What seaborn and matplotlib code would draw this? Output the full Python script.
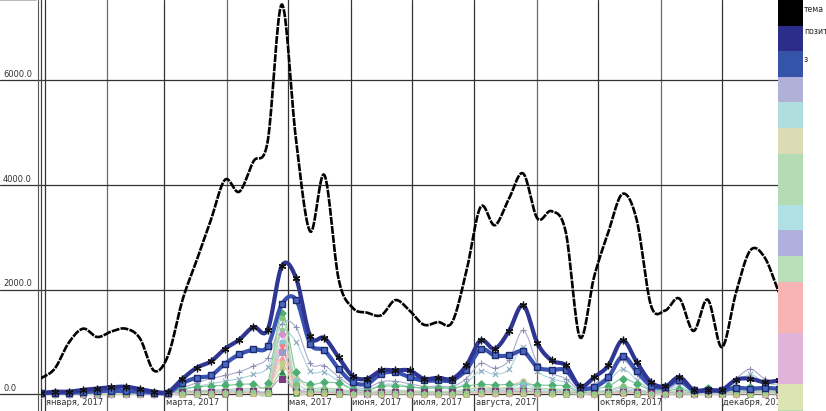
import numpy as np
import pandas as pd
import matplotlib
matplotlib.use("Agg")
import matplotlib.pyplot as plt
import matplotlib.dates as mdates
import matplotlib.transforms as mtransforms
from matplotlib.patches import Rectangle
import seaborn as sns

# ---------------- data ----------------
dates = pd.date_range("2016-12-30", periods=53, freq="7D")

tema = [300, 490, 990, 1254, 1095, 1200, 1254, 1070, 450, 750,
        1800, 2560, 3330, 4100, 3870, 4450, 4830, 7450, 4860, 3110,
        4190, 2200, 1650, 1560, 1510, 1800, 1600, 1330, 1380, 1380,
        2350, 3580, 3230, 3740, 4220, 3360, 3500, 3100, 1090, 2250,
        3100, 3830, 3330, 1700, 1600, 1830, 1210, 1810, 900, 1950,
        2750, 2620, 1955]

pozitiv = [25, 50, 50, 85, 110, 135, 145, 100, 50, 50,
           297, 507, 628, 870, 1043, 1284, 1234, 2452, 2222, 1106,
           1074, 704, 345, 297, 455, 455, 455, 297, 316, 297,
           551, 1030, 870, 1208, 1700, 978, 647, 551, 150, 327,
           551, 1030, 614, 232, 150, 327, 86, 86, 86, 278,
           297, 232, 264]

z_series = [20, 30, 30, 40, 60, 70, 60, 50, 30, 30,
            212, 316, 360, 584, 762, 857, 915, 1718, 1808, 966,
            838, 488, 232, 200, 392, 423, 327, 264, 264, 270,
            469, 857, 743, 743, 819, 519, 469, 455, 136, 136,
            327, 723, 442, 168, 136, 264, 73, 73, 73, 124,
            105, 124, 105]

s01 = [10, 15, 20, 25, 35, 45, 45, 35, 20, 15, 120, 220, 300, 360, 430, 540, 700,
       1350, 1280, 590, 550, 330, 150, 120, 240, 250, 200, 150, 160, 150,
       300, 590, 500, 650, 1220, 600, 400, 300, 80, 200, 350, 650, 380, 120, 80, 200,
       50, 50, 50, 300, 480, 300, 250]
s02 = [5, 10, 10, 15, 20, 30, 30, 25, 10, 10, 80, 150, 200, 250, 300, 380, 520,
       1200, 1000, 450, 420, 250, 100, 80, 180, 190, 150, 110, 120, 110,
       220, 450, 380, 480, 900, 450, 300, 220, 50, 150, 260, 480, 280, 90, 60, 150,
       30, 30, 30, 200, 380, 220, 180]
s03 = [5, 5, 5, 10, 10, 15, 15, 10, 5, 5, 40, 60, 80, 90, 100, 120, 150,
       500, 300, 120, 110, 80, 40, 30, 60, 60, 50, 40, 40, 40,
       80, 150, 120, 140, 250, 130, 100, 80, 20, 50, 80, 150, 90, 30, 20, 50,
       15, 15, 15, 80, 120, 80, 60]
s04 = [10, 10, 15, 20, 25, 30, 30, 25, 15, 10, 100, 140, 160, 170, 190, 200, 220,
       1550, 420, 200, 230, 210, 100, 80, 150, 160, 140, 120, 130, 120,
       160, 190, 180, 190, 200, 180, 170, 160, 40, 100, 150, 300, 200, 80, 60, 100,
       40, 130, 40, 100, 140, 120, 110]
s05 = [5, 5, 5, 5, 5, 5, 5, 5, 5, 5, 10, 15, 15, 15, 20, 20, 20,
       420, 30, 20, 20, 15, 10, 10, 10, 10, 10, 10, 10, 10,
       15, 20, 20, 20, 20, 20, 20, 15, 5, 10, 10, 20, 15, 10, 5, 10,
       5, 5, 5, 10, 10, 10, 10]
s06 = [5, 5, 5, 5, 10, 10, 10, 5, 5, 5, 30, 50, 60, 70, 80, 90, 110,
       1000, 250, 90, 90, 60, 30, 20, 40, 40, 35, 30, 30, 30,
       60, 100, 90, 110, 200, 100, 80, 60, 15, 40, 60, 120, 70, 25, 15, 40,
       10, 10, 10, 60, 90, 60, 50]
s07 = [5, 5, 5, 5, 5, 5, 5, 5, 5, 5, 20, 30, 40, 40, 50, 60, 70,
       800, 150, 60, 60, 40, 20, 15, 30, 30, 25, 20, 20, 20,
       40, 70, 60, 70, 130, 70, 50, 40, 10, 30, 40, 80, 50, 20, 10, 30,
       10, 10, 10, 40, 60, 40, 30]
s08 = [10, 10, 10, 10, 10, 10, 10, 10, 10, 10, 60, 70, 80, 90, 100, 110, 120,
       1450, 200, 120, 120, 100, 60, 50, 80, 80, 70, 60, 60, 60,
       100, 110, 110, 110, 120, 110, 100, 90, 30, 60, 80, 150, 100, 50, 40, 60,
       30, 30, 30, 60, 80, 60, 60]
s09 = [5, 5, 5, 5, 5, 5, 5, 5, 5, 5, 20, 30, 30, 40, 40, 50, 60,
       900, 100, 50, 50, 30, 15, 10, 20, 20, 20, 15, 15, 15,
       30, 40, 40, 40, 60, 40, 30, 30, 10, 20, 30, 50, 30, 10, 10, 20,
       10, 10, 10, 20, 30, 20, 20]
s10 = [3, 3, 3, 3, 3, 3, 3, 3, 3, 3, 15, 20, 20, 25, 25, 30, 35,
       700, 60, 30, 30, 20, 10, 8, 15, 15, 12, 10, 10, 10,
       20, 25, 25, 25, 35, 25, 20, 20, 5, 15, 20, 30, 20, 8, 5, 15,
       5, 5, 5, 15, 20, 15, 15]
s11 = [5, 5, 5, 5, 5, 5, 5, 5, 5, 5, 20, 25, 30, 30, 35, 40, 50,
       1150, 80, 40, 40, 30, 15, 10, 20, 20, 15, 12, 12, 12,
       25, 30, 30, 30, 45, 30, 25, 25, 8, 15, 25, 40, 25, 10, 8, 15,
       8, 8, 8, 15, 25, 15, 15]
s12 = [20, 20, 20, 20, 25, 25, 25, 20, 20, 20, 40, 45, 50, 50, 55, 55, 60,
       300, 70, 50, 50, 45, 35, 30, 40, 40, 40, 35, 35, 35,
       50, 60, 60, 60, 60, 50, 45, 45, 25, 35, 40, 50, 40, 30, 25, 30,
       25, 25, 25, 35, 40, 35, 35]
s13 = [3, 3, 3, 3, 3, 3, 3, 3, 3, 3, 10, 15, 15, 20, 20, 25, 25,
       600, 40, 20, 20, 15, 8, 5, 10, 10, 10, 8, 8, 8,
       15, 20, 20, 20, 25, 20, 15, 15, 5, 10, 15, 25, 15, 5, 5, 10,
       5, 5, 5, 10, 15, 10, 10]
s14 = [5, 5, 5, 5, 5, 5, 5, 5, 5, 5, 25, 35, 40, 45, 50, 55, 60,
       1250, 120, 60, 60, 45, 25, 20, 35, 35, 30, 25, 25, 25,
       45, 60, 55, 60, 90, 55, 45, 40, 12, 30, 40, 70, 45, 18, 12, 30,
       12, 12, 12, 35, 50, 35, 30]

y_ticks = [0, 2000, 4000, 6000]
y_tick_labels = ["0.0", "2000.0", "4000.0", "6000.0"]
month_starts = pd.date_range("2017-01-01", periods=12, freq="MS")
month_labels = {0: "января, 2017", 2: "марта, 2017", 4: "мая, 2017",
                5: "июня, 2017", 6: "июля, 2017", 7: "августа, 2017",
                9: "октября, 2017", 11: "декабря, 2017"}
legend_labels = ["тема", "позит", "з"]

# light series styling: (values, line colour, marker, marker colour)
light = [
    (s01, "#aaaacc", "+", "#8c8cb0"),
    (s02, "#a8d4da", "x", "#8aa8c0"),
    (s03, "#d8d6ae", "o", "#c8c490"),
    (s04, "#7cc496", "D", "#4cae72"),
    (s05, "#9ad0a0", "^", "#2e8b4a"),
    (s06, "#a8dce4", "o", "#84c8d4"),
    (s07, "#b4b4dc", "s", "#9a9acc"),
    (s08, "#b0dcb0", "p", "#7cc47c"),
    (s09, "#f4b0b0", "v", "#f08080"),
    (s10, "#f6b8b8", "^", "#f49a9a"),
    (s11, "#e0b0d8", "D", "#d690cc"),
    (s12, "#c8a0c8", "s", "#7a3a80"),
    (s13, "#d8e2b0", "o", "#c0d080"),
    (s14, "#b4dcb4", "*", "#90cc90"),
]
legend_colors = ["#000000", "#2c2c8a", "#3553a8", "#b0b0d8", "#b0dede",
                 "#dcdcb4", "#b4dcb4", "#b4dcb4", "#b0e0e4", "#b0b0dc",
                 "#b8e0b8", "#f8b4b4", "#f8b4b4", "#e0b4d8", "#e0b4d8",
                 "#dce4b4", "#b4dcb4"]

# ---------------- helpers ----------------
def smooth(xv, yv, n=16):
    x = np.asarray(xv, float)
    y = np.asarray(yv, float)
    xp = np.concatenate([[2 * x[0] - x[1]], x, [2 * x[-1] - x[-2]]])
    yp = np.concatenate([[2 * y[0] - y[1]], y, [2 * y[-1] - y[-2]]])
    t = np.linspace(0, 1, n, endpoint=False)[:, None]

    def cr(p):
        p0, p1, p2, p3 = p[:-3], p[1:-2], p[2:-1], p[3:]
        return 0.5 * (2 * p1 + (-p0 + p2) * t + (2 * p0 - 5 * p1 + 4 * p2 - p3) * t ** 2
                      + (-p0 + 3 * p1 - 3 * p2 + p3) * t ** 3)

    X = np.append(cr(xp).T.ravel(), x[-1])
    Y = np.append(cr(yp).T.ravel(), y[-1])
    return X, Y

# ---------------- figure ----------------
sns.set_theme(style="white")
plt.rcParams["font.family"] = ["DejaVu Sans"]

W, H = 826, 411
fig = plt.figure(figsize=(W / 100, H / 100), dpi=100)
left_px, right_px = 40.5, 778.7
ax = fig.add_axes([left_px / W, 0, (right_px - left_px) / W, 1])
ax.set_facecolor("white")

xnum = mdates.date2num(dates)
ax.set_xlim(xnum[0], xnum[-1])
ax.set_ylim(-319, 7534)
ax.set_xticks([])
ax.set_yticks([])
for s in ["top", "bottom"]:
    ax.spines[s].set_visible(False)
for s in ["left", "right"]:
    ax.spines[s].set_color("#444444")
    ax.spines[s].set_linewidth(0.9)

# grid
for k, m in enumerate(month_starts):
    c = "#333333" if k in month_labels else "#6a6a6a"
    ax.axvline(mdates.date2num(m), color=c, lw=0.9, zorder=0.5)
tr_h = mtransforms.blended_transform_factory(fig.transFigure, ax.transData)
tr_lab = mtransforms.offset_copy(tr_h, fig=fig, x=0, y=1.2, units="dots")
for v, lab in zip(y_ticks, y_tick_labels):
    ax.axhline(v, color="#333333", lw=0.9, zorder=0.5)
    ax.plot([0, left_px / W], [v, v], color="#333333", lw=0.9,
            transform=tr_h, clip_on=False)
    fig.text(3 / W, v, lab, fontsize=6, color="#333333", ha="left", va="bottom",
             transform=tr_lab)
ax.plot([0, 36 / W], [7534, 7534], color="#aaaaaa", lw=1.2, transform=tr_h, clip_on=False)
fig.add_artist(plt.Line2D([38.3 / W, 38.3 / W], [0, 1], color="#555555", lw=0.8,
                          transform=fig.transFigure))

# month labels
lab_tr = mtransforms.offset_copy(ax.transData, fig=fig, x=1.5, y=0, units="dots")
for k, txt in month_labels.items():
    ax.text(mdates.date2num(month_starts[k]), -150, txt, fontsize=6, color="#333333",
            ha="left", va="center", transform=lab_tr, clip_on=True)

# light series
for vals, lc, mk, mc in light:
    X, Y = smooth(xnum, vals)
    ax.plot(X, Y, color=lc, lw=0.8, zorder=2)
    sns.scatterplot(x=xnum, y=vals, ax=ax, marker=mk, s=14, color=mc,
                    edgecolor=mc if mk not in ["+", "x"] else None,
                    linewidth=0.8, zorder=3, legend=False)

# blue squares series
X, Y = smooth(xnum, z_series)
ax.plot(X, Y, color="#3a52b2", lw=3.0, zorder=4, solid_capstyle="round")
ax.plot(xnum, z_series, ls="none", marker="s", ms=5, mfc="#4a68c2",
        mec="#1c2a6e", mew=1.0, zorder=5)

# navy star series
X, Y = smooth(xnum, pozitiv)
ax.plot(X, Y, color="#2e3592", lw=3.0, zorder=6, solid_capstyle="round")
ax.plot(xnum, pozitiv, ls="none", marker=(6, 2, 0), ms=5.5, mec="#111111",
        mew=0.9, zorder=7)

# black dashed "тема"
X, Y = smooth(xnum, tema)
ax.plot(X, Y, color="black", lw=1.9, ls=(0, (3.0, 0.45)), zorder=8)

# legend strip
box_h = 25.6
x0 = 778.4
for k, c in enumerate(legend_colors):
    ytop = k * box_h
    fig.add_artist(Rectangle((x0 / W, 1 - (ytop + box_h) / H), 25 / W, box_h / H,
                             transform=fig.transFigure, facecolor=c, edgecolor="none",
                             zorder=10))
for k, txt in enumerate(legend_labels):
    ypix = [9.5, 31, 59][k]
    fig.text(803.8 / W, 1 - ypix / H, txt, fontsize=5.6, color="#222222",
             ha="left", va="center", zorder=11)

fig.savefig("out.png", dpi=100)
